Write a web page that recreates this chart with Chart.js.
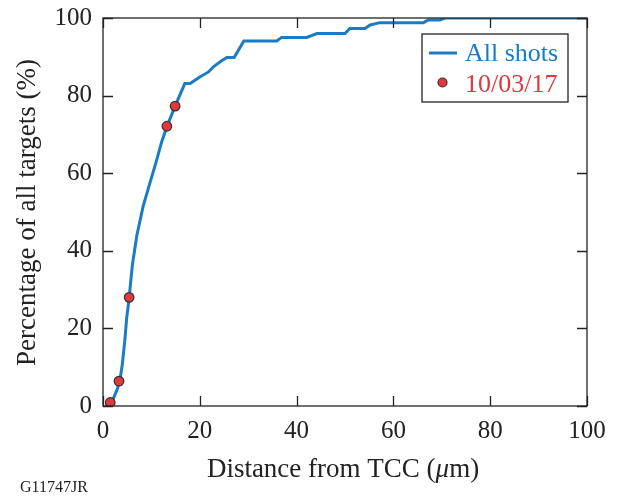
<!DOCTYPE html>
<html>
<head>
<meta charset="utf-8">
<script src="https://cdn.jsdelivr.net/npm/chart.js@4/dist/chart.umd.min.js"></script>
<style>
  html, body { margin: 0; padding: 0; background: #fff; }
  #wrap { width: 619px; height: 496px; position: relative; }
</style>
</head>
<body>
<div id="wrap"><canvas id="chart" width="619" height="496"></canvas></div>
<script>
// All shots: cumulative percentage vs distance from TCC
const allDist = [1.2, 2.0, 3.0, 3.6, 4.0, 4.5, 4.9, 5.4, 5.8, 6.1, 7.0, 8.3, 9.7, 11.0, 12.1, 13.2, 14.9, 16.9, 18.0, 20.0, 21.8, 22.8, 24.5, 25.6, 27.1, 29.1, 35.9, 36.9, 42.1, 44.2, 50.0, 51.0, 54.1, 55.2, 57.2, 66.2, 67.2, 69.6, 70.7, 100];
const allPct  = [0, 1.5, 4.5, 7.5, 10.8, 16.8, 22.8, 27.8, 33, 36.6, 44, 51.5, 57.5, 63, 68, 72, 77.3, 83.1, 83.1, 84.8, 86.1, 87.4, 89, 89.8, 89.8, 94.1, 94.1, 95.0, 95.0, 96.0, 96.0, 97.3, 97.3, 98.2, 98.8, 98.8, 99.5, 99.5, 100, 100];

// 10/03/17 shots
const shotDist = [1.5, 3.3, 5.4, 13.2, 14.9];
const shotPct  = [0.9, 6.4, 28.0, 72.1, 77.3];

const xTicks = [0, 20, 40, 60, 80, 100];
const yTicks = [0, 20, 40, 60, 80, 100];

const seriesNames = ['All shots', '10/03/17'];
const blue = '#1a7cc4';
const red = '#e0383d';
const serif = '"Liberation Serif", "DejaVu Serif", serif';

const toPts = (xs, ys) => xs.map((x, i) => ({ x: x, y: ys[i] }));

// frame, inward ticks, legend and labels
const decor = {
  id: 'decor',
  afterDraw(chart) {
    const { ctx, chartArea: a, scales } = chart;
    const xs = scales.x, ys = scales.y;
    ctx.save();
    ctx.strokeStyle = '#222';
    ctx.lineWidth = 1.3;
    ctx.strokeRect(a.left, a.top, a.right - a.left, a.bottom - a.top);

    const tl = 10;
    ctx.beginPath();
    xTicks.forEach(v => {
      const px = Math.round(xs.getPixelForValue(v)) + 0.5;
      ctx.moveTo(px, a.bottom); ctx.lineTo(px, a.bottom - tl);
      ctx.moveTo(px, a.top); ctx.lineTo(px, a.top + tl);
    });
    yTicks.forEach(v => {
      const py = Math.round(ys.getPixelForValue(v)) + 0.5;
      ctx.moveTo(a.left, py); ctx.lineTo(a.left + tl, py);
      ctx.moveTo(a.right, py); ctx.lineTo(a.right - tl, py);
    });
    ctx.stroke();

    // legend
    const lx = 422, ly = 34, lw = 146, lh = 68;
    ctx.fillStyle = '#fff';
    ctx.fillRect(lx, ly, lw, lh);
    ctx.strokeStyle = '#222';
    ctx.lineWidth = 1.3;
    ctx.strokeRect(lx, ly, lw, lh);

    ctx.strokeStyle = blue;
    ctx.lineWidth = 3;
    ctx.beginPath();
    ctx.moveTo(429, 53); ctx.lineTo(457, 53);
    ctx.stroke();

    ctx.fillStyle = red;
    ctx.strokeStyle = '#333';
    ctx.lineWidth = 1.2;
    ctx.beginPath();
    ctx.arc(442.5, 82.5, 4.5, 0, Math.PI * 2);
    ctx.fill(); ctx.stroke();

    ctx.font = '26px ' + serif;
    ctx.textBaseline = 'alphabetic';
    ctx.textAlign = 'left';
    ctx.fillStyle = blue;
    ctx.fillText(seriesNames[0], 465, 61);
    ctx.fillStyle = red;
    ctx.fillText(seriesNames[1], 465, 92);

    // axis titles
    const tf = 27;
    ctx.fillStyle = '#222';
    const p1 = 'Distance from TCC (';
    const p2 = 'm)';
    ctx.font = tf + 'px ' + serif;
    const w1 = ctx.measureText(p1).width;
    const w3 = ctx.measureText(p2).width;
    ctx.font = 'italic ' + tf + 'px ' + serif;
    const w2 = ctx.measureText('\u03bc').width;
    let sx = 343 - (w1 + w2 + w3) / 2;
    ctx.font = tf + 'px ' + serif;
    ctx.fillText(p1, sx, 477);
    ctx.font = 'italic ' + tf + 'px ' + serif;
    ctx.fillText('\u03bc', sx + w1, 477);
    ctx.font = tf + 'px ' + serif;
    ctx.fillText(p2, sx + w1 + w2, 477);

    ctx.save();
    ctx.translate(35, 212.5);
    ctx.rotate(-Math.PI / 2);
    ctx.textAlign = 'center';
    ctx.fillText('Percentage of all targets (%)', 0, 0);
    ctx.restore();

    ctx.font = '16px ' + serif;
    ctx.textAlign = 'left';
    ctx.fillText('G11747JR', 20, 492);
    ctx.restore();
  }
};

new Chart(document.getElementById('chart'), {
  type: 'scatter',
  data: {
    datasets: [
      {
        label: seriesNames[0],
        data: toPts(allDist, allPct),
        showLine: true,
        borderColor: blue,
        borderWidth: 3,
        pointRadius: 0,
        tension: 0,
        order: 2
      },
      {
        label: seriesNames[1],
        data: toPts(shotDist, shotPct),
        showLine: false,
        backgroundColor: red,
        borderColor: '#333',
        borderWidth: 1.2,
        pointRadius: 4.8,
        order: 1
      }
    ]
  },
  plugins: [decor],
  options: {
    responsive: false,
    animation: false,
    layout: { padding: { top: 18, right: 32, left: 0, bottom: 0 } },
    plugins: {
      legend: { display: false },
      tooltip: { enabled: false }
    },
    scales: {
      x: {
        type: 'linear',
        min: 0, max: 100,
        afterBuildTicks: s => { s.ticks = xTicks.map(v => ({ value: v })); },
        afterFit: s => { s.height = 90; },
        grid: { display: true, drawOnChartArea: false, drawTicks: false },
        border: { display: false },
        ticks: { color: '#222', padding: 10, maxRotation: 0, font: { family: serif, size: 25 } }
      },
      y: {
        type: 'linear',
        min: 0, max: 100,
        afterBuildTicks: s => { s.ticks = yTicks.map(v => ({ value: v })); },
        afterFit: s => { s.width = 103; s.paddingTop = 0; s.paddingBottom = 0; },
        grid: { display: true, drawOnChartArea: false, drawTicks: false },
        border: { display: false },
        ticks: { color: '#222', padding: 11, font: { family: serif, size: 25, lineHeight: 0.6 } }
      }
    }
  }
});
</script>
</body>
</html>
